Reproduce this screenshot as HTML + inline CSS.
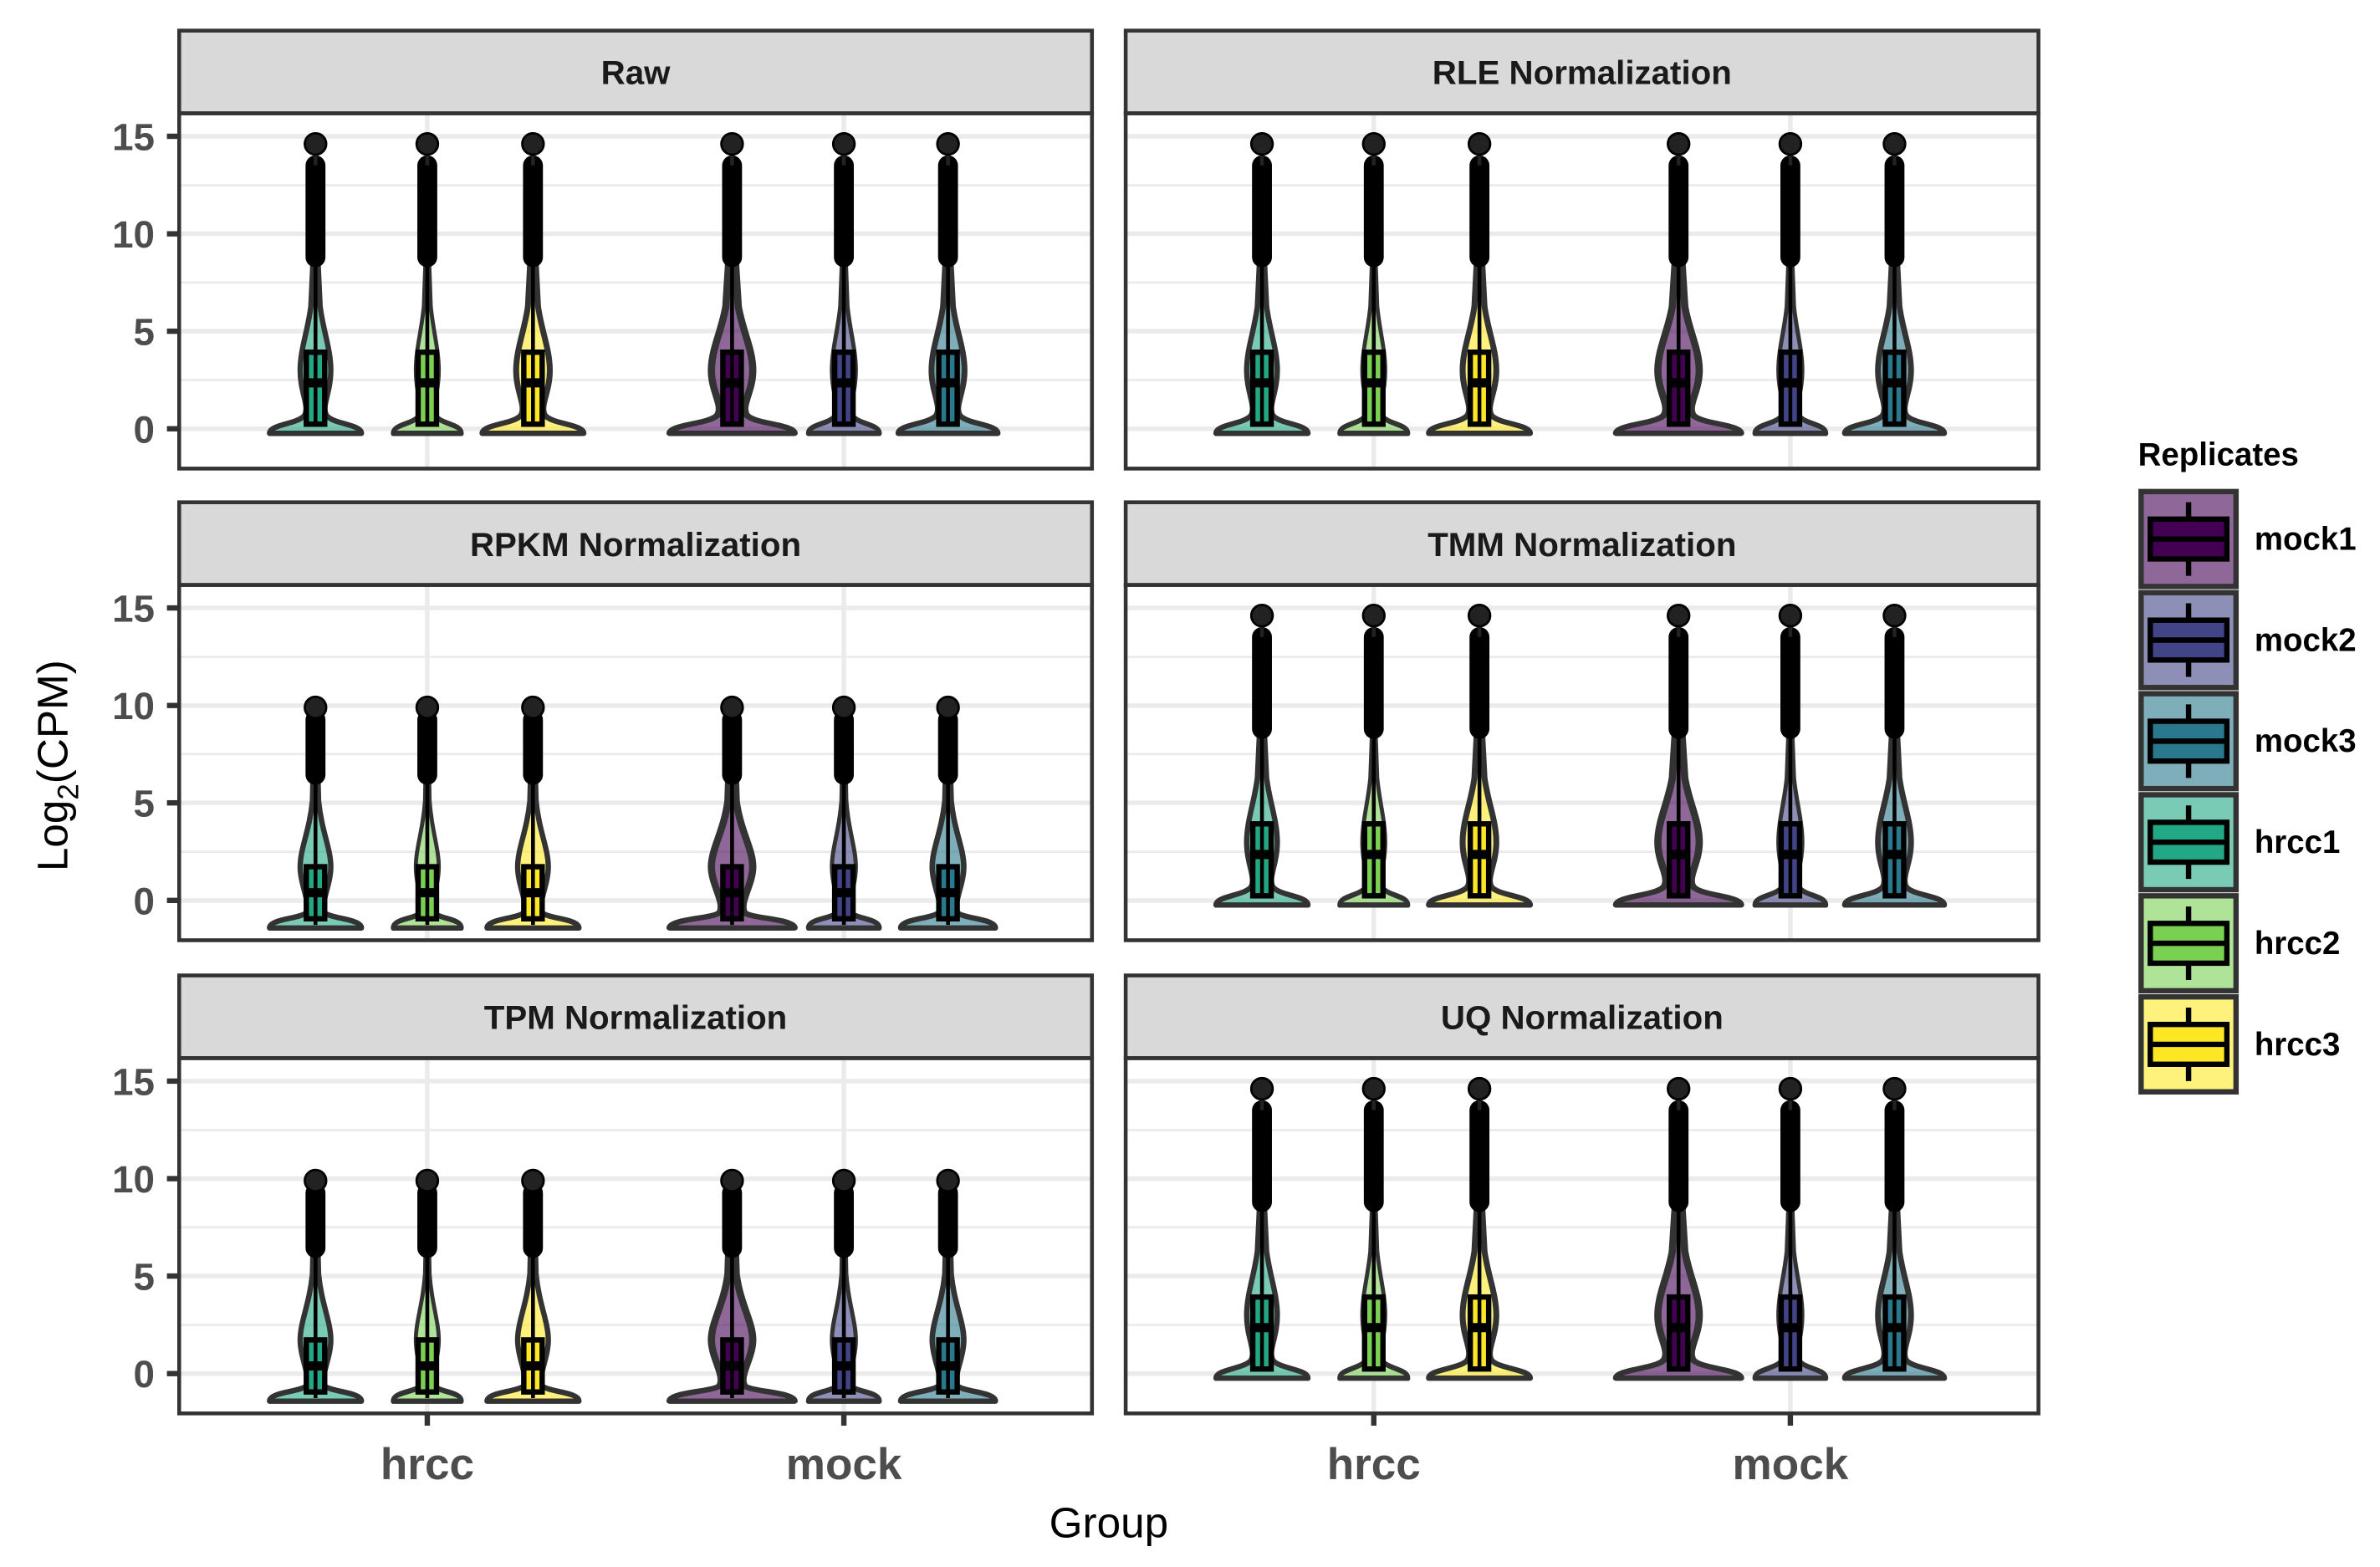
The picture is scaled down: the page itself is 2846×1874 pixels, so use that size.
<!DOCTYPE html>
<html><head><meta charset="utf-8"><style>
html,body{margin:0;padding:0;background:#fff}
svg{display:block}
text{font-family:"Liberation Sans",Arial,sans-serif}
</style></head><body>
<svg width="2846" height="1874" viewBox="0 0 1554 1023.3" preserveAspectRatio="none" xmlns="http://www.w3.org/2000/svg">
<defs>
<path id="vA" d="M-30,3 C-30,-3 -11,-3 -7,-9 C-4,-15 -10,-24 -10,-38 C-10,-52 -5,-64 -3,-80 L-1.5,-112 L1.5,-112 L3,-80 C5,-64 10,-52 10,-38 C10,-24 4,-15 7,-9 C11,-3 30,-3 30,3 Z" stroke="#333" stroke-width="3.5" stroke-linejoin="round"/>
<g id="oA"><line x1="0" y1="-2" x2="0" y2="-120" stroke="#000" stroke-width="2.5"/><line x1="0" y1="-112" x2="0" y2="-172" stroke="#000" stroke-width="13" stroke-linecap="round"/><line x1="0" y1="-172" x2="0" y2="-186" stroke="#222" stroke-width="2.5"/><circle cx="0" cy="-186" r="7" fill="#222" stroke="#000" stroke-width="1.5"/></g>
<g id="bA"><rect x="-6" y="-50" width="12" height="47" stroke="#000" stroke-width="3.5"/><line x1="-6" y1="-30" x2="6" y2="-30" stroke="#000" stroke-width="6"/></g>
<path id="vB" d="M-30,18 C-30,12 -10,12 -6,8 C-3,2 -10,-10 -10,-22 C-10,-34 -4,-45 -2,-65 L-1.5,-85 L1.5,-85 L2,-65 C4,-45 10,-34 10,-22 C10,-10 3,2 6,8 C10,12 30,12 30,18 Z" stroke="#333" stroke-width="3.5" stroke-linejoin="round"/>
<g id="oB"><line x1="0" y1="16" x2="0" y2="-90" stroke="#000" stroke-width="2.5"/><line x1="0" y1="-82" x2="0" y2="-118" stroke="#000" stroke-width="13" stroke-linecap="round"/><circle cx="0" cy="-126" r="7" fill="#222" stroke="#000" stroke-width="1.5"/></g>
<g id="bB"><rect x="-6" y="-22" width="12" height="34" stroke="#000" stroke-width="3.5"/><line x1="-6" y1="-5" x2="6" y2="-5" stroke="#000" stroke-width="6"/></g>

<g id="frame">
<rect x="0" y="-206" width="596" height="232" fill="#fff"/>
<g stroke="#ebebeb" stroke-width="1.5"><line x1="0" x2="596" y1="-31.8" y2="-31.8"/><line x1="0" x2="596" y1="-95.5" y2="-95.5"/><line x1="0" x2="596" y1="-159" y2="-159"/></g>
<g stroke="#ebebeb" stroke-width="3"><line x1="0" x2="596" y1="0" y2="0"/><line x1="0" x2="596" y1="-63.7" y2="-63.7"/><line x1="0" x2="596" y1="-127.3" y2="-127.3"/><line x1="0" x2="596" y1="-191" y2="-191"/><line x1="162" x2="162" y1="-206" y2="26"/><line x1="434" x2="434" y1="-206" y2="26"/></g>
<rect x="0" y="-260" width="596" height="54" fill="#d9d9d9" stroke="#333" stroke-width="2.5"/>
</g>
<g id="setA">
<g transform="translate(89,0)" fill="#22a884"><use href="#vA" fill-opacity=".6"/><use href="#bA"/><use href="#oA"/></g>
<g transform="translate(162,0)" fill="#7ad151"><use href="#vA" transform="scale(.75,1)" fill-opacity=".6"/><use href="#bA"/><use href="#oA"/></g>
<g transform="translate(231,0)" fill="#fde725"><use href="#vA" transform="scale(1.1,1)" fill-opacity=".6"/><use href="#bA"/><use href="#oA"/></g>
<g transform="translate(361,0)" fill="#440154"><use href="#vA" transform="scale(1.35,1)" fill-opacity=".6"/><use href="#bA"/><use href="#oA"/></g>
<g transform="translate(434,0)" fill="#414487"><use href="#vA" transform="scale(.78,1)" fill-opacity=".6"/><use href="#bA"/><use href="#oA"/></g>
<g transform="translate(502,0)" fill="#2a788e"><use href="#vA" transform="scale(1.08,1)" fill-opacity=".6"/><use href="#bA"/><use href="#oA"/></g>
</g>
<g id="setB">
<g transform="translate(89,0)" fill="#22a884"><use href="#vB" fill-opacity=".6"/><use href="#bB"/><use href="#oB"/></g>
<g transform="translate(162,0)" fill="#7ad151"><use href="#vB" transform="scale(.75,1)" fill-opacity=".6"/><use href="#bB"/><use href="#oB"/></g>
<g transform="translate(231,0)" fill="#fde725"><use href="#vB" transform="scale(1.0,1)" fill-opacity=".6"/><use href="#bB"/><use href="#oB"/></g>
<g transform="translate(361,0)" fill="#440154"><use href="#vB" transform="scale(1.35,1)" fill-opacity=".6"/><use href="#bB"/><use href="#oB"/></g>
<g transform="translate(434,0)" fill="#414487"><use href="#vB" transform="scale(.78,1)" fill-opacity=".6"/><use href="#bB"/><use href="#oB"/></g>
<g transform="translate(502,0)" fill="#2a788e"><use href="#vB" transform="scale(1.03,1)" fill-opacity=".6"/><use href="#bB"/><use href="#oB"/></g>
</g>
<rect id="border" x="0" y="-206" width="596" height="232" fill="none" stroke="#333" stroke-width="2.5"/>
<g id="yt" font-size="25" font-weight="bold" fill="#4d4d4d" text-anchor="end" stroke="none">
<text x="-16" y="9">0</text><text x="-16" y="-54.7">5</text><text x="-16" y="-118.3">10</text><text x="-16" y="-182">15</text>
<g stroke="#333" stroke-width="3.5"><line x1="-8" x2="0" y1="0" y2="0"/><line x1="-8" x2="0" y1="-63.7" y2="-63.7"/><line x1="-8" x2="0" y1="-127.3" y2="-127.3"/><line x1="-8" x2="0" y1="-191" y2="-191"/></g>
</g>
</defs>

<g transform="translate(117,280)"><use href="#frame"/><use href="#setA"/><use href="#border"/><use href="#yt"/>
<text x="298" y="-225" font-size="22" font-weight="bold" fill="#1a1a1a" text-anchor="middle">Raw</text></g>
<g transform="translate(735,280)"><use href="#frame"/><use href="#setA"/><use href="#border"/>
<text x="298" y="-225" font-size="22" font-weight="bold" fill="#1a1a1a" text-anchor="middle">RLE Normalization</text></g>
<g transform="translate(117,588)"><use href="#frame"/><use href="#setB"/><use href="#border"/><use href="#yt"/>
<text x="298" y="-225" font-size="22" font-weight="bold" fill="#1a1a1a" text-anchor="middle">RPKM Normalization</text></g>
<g transform="translate(735,588)"><use href="#frame"/><use href="#setA"/><use href="#border"/>
<text x="298" y="-225" font-size="22" font-weight="bold" fill="#1a1a1a" text-anchor="middle">TMM Normalization</text></g>
<g transform="translate(117,897)"><use href="#frame"/><use href="#setB"/><use href="#border"/><use href="#yt"/>
<text x="298" y="-225" font-size="22" font-weight="bold" fill="#1a1a1a" text-anchor="middle">TPM Normalization</text>
<g stroke="#333" stroke-width="3.5"><line x1="162" x2="162" y1="26" y2="34"/><line x1="434" x2="434" y1="26" y2="34"/></g></g>
<g transform="translate(735,897)"><use href="#frame"/><use href="#setA"/><use href="#border"/>
<text x="298" y="-225" font-size="22" font-weight="bold" fill="#1a1a1a" text-anchor="middle">UQ Normalization</text>
<g stroke="#333" stroke-width="3.5"><line x1="162" x2="162" y1="26" y2="34"/><line x1="434" x2="434" y1="26" y2="34"/></g></g>

<g font-size="29" font-weight="bold" fill="#4d4d4d" text-anchor="middle">
<text x="279" y="966">hrcc</text><text x="551" y="966">mock</text>
<text x="897" y="966">hrcc</text><text x="1169" y="966">mock</text>
</g>
<text x="724" y="1004" font-size="28" text-anchor="middle" fill="#000">Group</text>
<text transform="translate(44,500) rotate(-90)" font-size="28" text-anchor="middle" fill="#000">Log<tspan font-size="19" dy="7">2</tspan><tspan dy="-7">(CPM)</tspan></text>

<text x="1396" y="304" font-size="21" font-weight="bold" fill="#000">Replicates</text>
<g font-size="21" font-weight="bold" fill="#000">
<g transform="translate(1397,320)"><rect x="1" y="1" width="62" height="62" fill="#440154" fill-opacity=".6" stroke="#333" stroke-width="3.5"/><line x1="32" x2="32" y1="8" y2="56" stroke="#000" stroke-width="3.5"/><rect x="7" y="19" width="50" height="26" fill="#440154" stroke="#000" stroke-width="3.5"/><line x1="7" x2="57" y1="32" y2="32" stroke="#000" stroke-width="3.5"/><text x="75" y="39">mock1</text></g>
<g transform="translate(1397,386)"><rect x="1" y="1" width="62" height="62" fill="#414487" fill-opacity=".6" stroke="#333" stroke-width="3.5"/><line x1="32" x2="32" y1="8" y2="56" stroke="#000" stroke-width="3.5"/><rect x="7" y="19" width="50" height="26" fill="#414487" stroke="#000" stroke-width="3.5"/><line x1="7" x2="57" y1="32" y2="32" stroke="#000" stroke-width="3.5"/><text x="75" y="39">mock2</text></g>
<g transform="translate(1397,452)"><rect x="1" y="1" width="62" height="62" fill="#2a788e" fill-opacity=".6" stroke="#333" stroke-width="3.5"/><line x1="32" x2="32" y1="8" y2="56" stroke="#000" stroke-width="3.5"/><rect x="7" y="19" width="50" height="26" fill="#2a788e" stroke="#000" stroke-width="3.5"/><line x1="7" x2="57" y1="32" y2="32" stroke="#000" stroke-width="3.5"/><text x="75" y="39">mock3</text></g>
<g transform="translate(1397,518)"><rect x="1" y="1" width="62" height="62" fill="#22a884" fill-opacity=".6" stroke="#333" stroke-width="3.5"/><line x1="32" x2="32" y1="8" y2="56" stroke="#000" stroke-width="3.5"/><rect x="7" y="19" width="50" height="26" fill="#22a884" stroke="#000" stroke-width="3.5"/><line x1="7" x2="57" y1="32" y2="32" stroke="#000" stroke-width="3.5"/><text x="75" y="39">hrcc1</text></g>
<g transform="translate(1397,584)"><rect x="1" y="1" width="62" height="62" fill="#7ad151" fill-opacity=".6" stroke="#333" stroke-width="3.5"/><line x1="32" x2="32" y1="8" y2="56" stroke="#000" stroke-width="3.5"/><rect x="7" y="19" width="50" height="26" fill="#7ad151" stroke="#000" stroke-width="3.5"/><line x1="7" x2="57" y1="32" y2="32" stroke="#000" stroke-width="3.5"/><text x="75" y="39">hrcc2</text></g>
<g transform="translate(1397,650)"><rect x="1" y="1" width="62" height="62" fill="#fde725" fill-opacity=".6" stroke="#333" stroke-width="3.5"/><line x1="32" x2="32" y1="8" y2="56" stroke="#000" stroke-width="3.5"/><rect x="7" y="19" width="50" height="26" fill="#fde725" stroke="#000" stroke-width="3.5"/><line x1="7" x2="57" y1="32" y2="32" stroke="#000" stroke-width="3.5"/><text x="75" y="39">hrcc3</text></g>
</g>
</svg>
</body></html>
